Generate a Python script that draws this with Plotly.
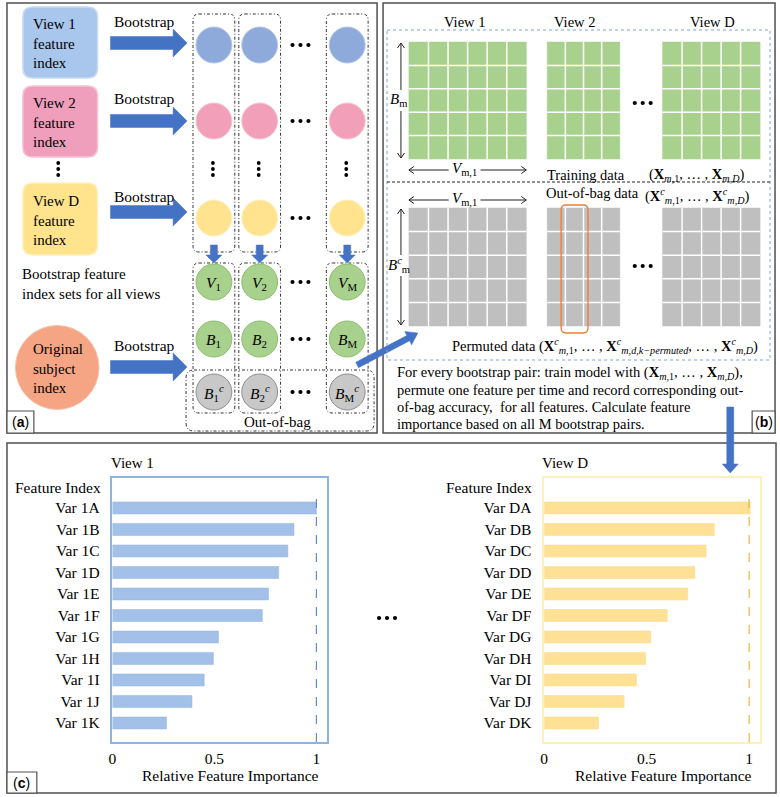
import math
import plotly.graph_objects as go

W, H = 780, 797
SERIF = "Liberation Serif, Times New Roman, serif"
SANS = "Liberation Sans, Arial, sans-serif"

# ---------------- data ----------------
view1_features = ["Var 1A", "Var 1B", "Var 1C", "Var 1D", "Var 1E", "Var 1F",
                  "Var 1G", "Var 1H", "Var 1I", "Var 1J", "Var 1K"]
view1_importance = [1.00, 0.89, 0.86, 0.815, 0.765, 0.735, 0.52, 0.495, 0.45, 0.39, 0.265]
viewD_features = ["Var DA", "Var DB", "Var DC", "Var DD", "Var DE", "Var DF",
                  "Var DG", "Var DH", "Var DI", "Var DJ", "Var DK"]
viewD_importance = [1.005, 0.83, 0.79, 0.735, 0.70, 0.60, 0.52, 0.495, 0.45, 0.39, 0.265]
importance_ticks = [0, 0.5, 1]
importance_tick_labels = ["0", "0.5", "1"]

# ---------------- colours ----------------
ARROW = "#4472c4"
BORDER = "#505050"
DASHDOT = "3px,2px,1px,2px"

shapes = []
annots = []


def text(x, y, t, size=15, xanchor="center", yanchor="middle", family=SERIF,
         color="black", align="left"):
    annots.append(dict(x=x, y=y, xref="x", yref="y", text=t, showarrow=False,
                       xanchor=xanchor, yanchor=yanchor, align=align, borderpad=0,
                       font=dict(family=family, size=size, color=color)))


def rect(x0, y0, x1, y1, fill="rgba(0,0,0,0)", line="black", width=1, dash="solid"):
    shapes.append(dict(type="rect", xref="x", yref="y", x0=x0, y0=y0, x1=x1, y1=y1,
                       fillcolor=fill, line=dict(color=line, width=width, dash=dash)))


def circle(cx, cy, r, fill, line="rgba(0,0,0,0)", width=1):
    shapes.append(dict(type="circle", xref="x", yref="y", x0=cx - r, y0=cy - r,
                       x1=cx + r, y1=cy + r, fillcolor=fill,
                       line=dict(color=line, width=width)))


def path(d, fill="rgba(0,0,0,0)", line="black", width=1, dash="solid"):
    shapes.append(dict(type="path", xref="x", yref="y", path=d, fillcolor=fill,
                       line=dict(color=line, width=width, dash=dash)))


def line(x0, y0, x1, y1, color="black", width=1, dash="solid"):
    shapes.append(dict(type="line", xref="x", yref="y", x0=x0, y0=y0, x1=x1, y1=y1,
                       line=dict(color=color, width=width, dash=dash)))


def rrect_path(x0, y0, x1, y1, r):
    return (f"M{x0+r},{y0} L{x1-r},{y0} Q{x1},{y0} {x1},{y0+r} L{x1},{y1-r} "
            f"Q{x1},{y1} {x1-r},{y1} L{x0+r},{y1} Q{x0},{y1} {x0},{y1-r} "
            f"L{x0},{y0+r} Q{x0},{y0} {x0+r},{y0} Z")


def rrect(x0, y0, x1, y1, r, fill="rgba(0,0,0,0)", line="black", width=1, dash="solid"):
    path(rrect_path(x0, y0, x1, y1, r), fill=fill, line=line, width=width, dash=dash)


def block_arrow(xs, ys, xe, ye, body, head, headlen, color=ARROW):
    dx, dy = xe - xs, ye - ys
    L = math.hypot(dx, dy)
    ux, uy = dx / L, dy / L
    px, py = -uy, ux
    bx, by = xe - ux * headlen, ye - uy * headlen
    pts = [(xs + px * body / 2, ys + py * body / 2),
           (bx + px * body / 2, by + py * body / 2),
           (bx + px * head / 2, by + py * head / 2),
           (xe, ye),
           (bx - px * head / 2, by - py * head / 2),
           (bx - px * body / 2, by - py * body / 2),
           (xs - px * body / 2, ys - py * body / 2)]
    d = "M" + " L".join(f"{x:.1f},{y:.1f}" for x, y in pts) + " Z"
    path(d, fill=color, line=color, width=0.5)


def dots_v(cx, cy):
    for dy in (-6, 0, 6):
        circle(cx, cy + dy, 1.9, "black")


def dots_h(cx, cy):
    for dx in (-8, 0, 8):
        circle(cx + dx, cy, 2.1, "black")


# ---------------- panel frames ----------------
rect(3, 3, 375, 433, line=BORDER, width=1.5)
rect(381, 3, 775, 433, line=BORDER, width=1.5)
rect(3, 443, 776, 793, line=BORDER, width=1.5)
# panel labels
rect(3, 411, 30, 433, fill="white", line=BORDER, width=1.2)
text(16.5, 422, "(<b>a</b>)", size=14, family=SANS)
rect(752, 411, 775, 433, fill="white", line=BORDER, width=1.2)
text(763.5, 422, "(<b>b</b>)", size=14, family=SANS)
rect(3, 772, 33, 793, fill="white", line=BORDER, width=1.2)
text(17.5, 782.5, "(<b>c</b>)", size=14, family=SANS)

# ---------------- panel (a) ----------------
cols_x = [211, 257, 345]
ell_x = 298
R = 18

# view boxes
rrect(19, 7, 94, 78, 10, fill="#a9c6ec", line="#c9dbf2", width=1.5)
text(28, 43, "View 1<br>feature<br>index", size=15, xanchor="left")
rrect(19, 86, 94, 157, 10, fill="#ef9fbc", line="#f5c2d4", width=1.5)
text(28, 122, "View 2<br>feature<br>index", size=15, xanchor="left")
dots_v(54.5, 169)
rrect(19, 183, 94, 255, 10, fill="#ffe38d", line="#fff0bf", width=1.5)
text(28, 220, "View D<br>feature<br>index", size=15, xanchor="left")

for yc, ly in ((43, 21), (121, 98), (212, 196)):
    block_arrow(107, yc, 184, yc, 13, 28, 14)
    text(141, ly, "Bootstrap", size=15.5)

# column dash-dot boxes
for cx in cols_x:
    rrect(cx - 21, 14, cx + 21, 252, 6, line="#333333", width=1, dash=DASHDOT)
    rrect(cx - 21, 263, cx + 21, 413, 6, line="#333333", width=1, dash=DASHDOT)
rrect(183, 370, 372, 431, 8, line="#333333", width=1, dash=DASHDOT)
text(275, 422, "Out-of-bag", size=15)

row_specs = [
    (45, "#8eaadb", "#b4c7e7"),
    (121, "#f2a0b9", "#f7c3d3"),
    (218, "#ffe38f", "#fff0c0"),
]
for yc, fill, ln in row_specs:
    for cx in cols_x:
        circle(cx, yc, R, fill, ln, 1)
    dots_h(ell_x, yc)
for cx in cols_x:
    dots_v(cx - 1, 169)
    block_arrow(cx, 245, cx, 263, 7, 16, 8)

labels_V = ["<i>V</i><sub>1</sub>", "<i>V</i><sub>2</sub>", "<i>V</i><sub>M</sub>"]
labels_B = ["<i>B</i><sub>1</sub>", "<i>B</i><sub>2</sub>", "<i>B</i><sub>M</sub>"]
labels_Bc = ["<i>B</i><sub>1</sub><sup><i>c</i></sup>", "<i>B</i><sub>2</sub><sup><i>c</i></sup>",
             "<i>B</i><sub>M</sub><sup><i>c</i></sup>"]
for yc, fill, ln, labs in ((282, "#a9d18e", "#8cbf6c", labels_V),
                          (339, "#a9d18e", "#8cbf6c", labels_B),
                          (392, "#c8c8c8", "#8f8f8f", labels_Bc)):
    for cx, lab in zip(cols_x, labs):
        circle(cx, yc, R, fill, ln, 1)
        text(cx, yc + 1, lab, size=15.5)
    dots_h(ell_x, yc)

text(17, 284, "Bootstrap feature<br>index sets for all views", size=15, xanchor="left")

circle(53.5, 367.5, 42, "#f5a584", "#f8c1a8", 1)
text(28, 368, "Original<br>subject<br>index", size=15, xanchor="left")
block_arrow(107, 367, 184, 367, 13, 28, 14)
text(141, 345, "Bootstrap", size=15.5)

# arrow from (a) to (b)
block_arrow(355, 365, 416, 333, 6, 15, 11)

# ---------------- panel (b) ----------------
rect(385, 30, 770, 360, line="#7ba3d4", width=1, dash="dot")
line(385, 182, 770, 182, color="#222222", width=1, dash="3px,2px")

text(463, 22, "View 1", size=14.5)
text(573, 22, "View 2", size=14.5)
text(712, 22, "View D", size=14.5)


def grid(x0, x1, y0, y1, ncol, nrow, fill):
    rect(x0, y0, x1, y1, fill=fill, line=fill, width=0.5)
    for i in range(1, ncol):
        xx = x0 + (x1 - x0) * i / ncol
        line(xx, y0, xx, y1, color="white", width=1.5)
    for j in range(1, nrow):
        yy = y0 + (y1 - y0) * j / nrow
        line(x0, yy, x1, yy, color="white", width=1.5)


GREEN = "#a9d18e"
GREY = "#bfbfbf"
grid(407, 525, 42, 159, 6, 5, GREEN)
grid(546, 619, 42, 159, 4, 5, GREEN)
grid(662, 760, 42, 159, 5, 5, GREEN)
grid(407, 525, 208, 326, 6, 5, GREY)
grid(546, 619, 208, 326, 4, 5, GREY)
grid(662, 760, 208, 326, 5, 5, GREY)
dots_h(642, 103)
dots_h(642, 266)

# orange permuted column
rrect(560, 205, 587, 333, 5, line="#ed7d31", width=1.3)


def open_head(x, y, direction, s=5):
    if direction == "up":
        d = f"M{x-3.5},{y+s} L{x},{y} L{x+3.5},{y+s}"
    elif direction == "down":
        d = f"M{x-3.5},{y-s} L{x},{y} L{x+3.5},{y-s}"
    elif direction == "left":
        d = f"M{x+s},{y-3.5} L{x},{y} L{x+s},{y+3.5}"
    else:
        d = f"M{x-s},{y-3.5} L{x},{y} L{x-s},{y+3.5}"
    path(d, line="#222222", width=1)


# vertical double arrows
for (ya, yb, lab, ly) in ((43, 158, "<i>B</i><sub>m</sub>", 100),
                          (209, 325, "<i>B</i><sup><i>c</i></sup><sub>m</sub>", 265)):
    line(399, ya, 399, ly - 10, color="#222222", width=1)
    line(399, ly + 11, 399, yb, color="#222222", width=1)
    open_head(399, ya, "up")
    open_head(399, yb, "down")
    text(397, ly, lab, size=15, xanchor="center")

# horizontal double arrows
for yy in (170, 200):
    line(407, yy, 447, yy, color="#222222", width=1)
    line(479, yy, 525, yy, color="#222222", width=1)
    open_head(407, yy, "left")
    open_head(525, yy, "right")
    text(463, yy - 1, "<i>V</i><sub>m,1</sub>", size=15)

XM1 = "<b>X</b><sub><i>m</i>,1</sub>"
XMD = "<b>X</b><sub><i>m,D</i></sub>"
XC1 = "<b>X</b><sup><i>c</i></sup><sub><i>m</i>,1</sub>"
XCD = "<b>X</b><sup><i>c</i></sup><sub><i>m,D</i></sub>"
text(585, 175, "Training data", size=14.5)
text(697, 175, f"({XM1}, … , {XMD})", size=14.5)
text(592, 193, "Out-of-bag data", size=14.5)
text(697, 196, f"({XC1}, … , {XCD})", size=14.5)
text(604, 346,
     f"Permuted data ({XC1}, … , <b>X</b><sup><i>c</i></sup><sub><i>m,d,k−permuted</i></sub>, … , {XCD})",
     size=14.5)

para = [
    f"For every bootstrap pair: train model with ({XM1}, … , {XMD}),",
    "permute one feature per time and record corresponding out-",
    "of-bag accuracy,  for all features. Calculate feature",
    "importance based on all M bootstrap pairs.",
]
for i, ln_ in enumerate(para):
    text(394, 373 + 17 * i, ln_, size=14.5, xanchor="left")

# arrow from (b) to (c)
block_arrow(730, 407, 730, 473, 7, 16, 9)

# ---------------- panel (c) ----------------
text(107, 463, "View 1", size=15, xanchor="left")
text(98, 487, "Feature Index", size=15.5, xanchor="right")
text(228, 775, "Relative Feature Importance", size=15.5)
text(540, 463, "View D", size=15, xanchor="left")
text(532, 487, "Feature Index", size=15.5, xanchor="right")
text(663, 775, "Relative Feature Importance", size=15.5)
dots_h(385, 618)

# ---------------- figure ----------------
fig = go.Figure()
fig.add_trace(go.Bar(x=view1_importance, y=view1_features, orientation="h", width=0.56,
                     marker=dict(color="#a2c0e8", line=dict(color="#94b5e0", width=0.5)),
                     xaxis="x2", yaxis="y2", showlegend=False))
fig.add_trace(go.Bar(x=viewD_importance, y=viewD_features, orientation="h", width=0.56,
                     marker=dict(color="#ffe196", line=dict(color="#f8d98a", width=0.5)),
                     xaxis="x3", yaxis="y3", showlegend=False))

# dashed reference lines at 1
shapes.append(dict(type="line", xref="x2", yref="y2 domain", x0=1, x1=1, y0=0, y1=0.92,
                   line=dict(color="#5b8fd0", width=1.2, dash="dash")))
shapes.append(dict(type="line", xref="x3", yref="y3 domain", x0=1, x1=1, y0=0, y1=0.92,
                   line=dict(color="#f0b43c", width=1.2, dash="dash")))

ydom = [1 - 742 / H, 1 - 478 / H]
yrange = [10.884, -1.395]
tickfont = dict(family=SERIF, size=15.5, color="black")


def xax(dom, xr, col):
    return dict(domain=dom, range=xr, tickvals=importance_ticks, ticktext=importance_tick_labels,
                showgrid=False, zeroline=False, showline=True, mirror=True, linecolor=col,
                linewidth=1.5, ticks="", tickfont=tickfont, ticklabelstandoff=2, fixedrange=True)


def yax(anchor, feats, col):
    return dict(domain=ydom, anchor=anchor, range=yrange, type="category",
                categoryorder="array", categoryarray=feats, showgrid=False, zeroline=False,
                showline=True, mirror=True, linecolor=col, linewidth=1.5, ticks="",
                tickfont=tickfont, ticklabelstandoff=8, fixedrange=True)


fig.update_layout(
    width=W, height=H,
    margin=dict(l=0, r=0, t=0, b=0),
    paper_bgcolor="white", plot_bgcolor="rgba(0,0,0,0)",
    xaxis=dict(domain=[0, 1], range=[0, W], visible=False, fixedrange=True),
    yaxis=dict(domain=[0, 1], range=[H, 0], visible=False, fixedrange=True),
    xaxis2=dict(anchor="y2", **xax([109 / W, 325 / W], [0, 216 / 205], "#8db3e2")),
    yaxis2=yax("x2", view1_features, "#8db3e2"),
    xaxis3=dict(anchor="y3", **xax([543 / W, 760 / W], [0, 217 / 206], "#fff0b8")),
    yaxis3=yax("x3", viewD_features, "#fff0b8"),
    shapes=shapes,
    annotations=annots,
    showlegend=False,
    bargap=0.4,
)

fig.write_html("out.html", config={"displayModeBar": False},
               post_script="document.body.style.margin='0';")
